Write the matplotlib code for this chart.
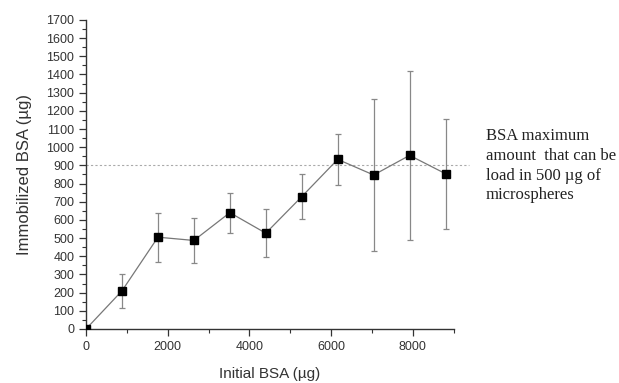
import matplotlib
matplotlib.use("Agg")
import matplotlib.pyplot as plt
from matplotlib.ticker import MultipleLocator

initial_bsa = [0, 880, 1760, 2640, 3520, 4400, 5280, 6160, 7040, 7920, 8800]
immobilized = [0, 210, 505, 487, 640, 527, 728, 933, 847, 955, 854]
errors = [0, 95, 135, 122, 110, 133, 125, 142, 420, 464, 302]
max_load = 900
note = "BSA maximum\namount  that can be\nload in 500 µg of\nmicrospheres"

fig = plt.figure(figsize=(6.19, 3.83), dpi=100)
ax = fig.add_axes([0.139, 0.141, 0.594, 0.807])

ax.errorbar(initial_bsa, immobilized, yerr=errors, color="#777777", lw=0.9,
            ecolor="#888888", elinewidth=0.9, capsize=2.5, capthick=0.9,
            marker="s", ms=5.5, mfc="black", mec="black", zorder=3)
ax.plot([0, 9380], [max_load, max_load], ls=(0, (2, 2)), color="#aaaaaa",
        lw=0.8, clip_on=False)

ax.set_xlim(0, 9000)
ax.set_ylim(0, 1700)
ax.xaxis.set_major_locator(MultipleLocator(2000))
ax.xaxis.set_minor_locator(MultipleLocator(1000))
ax.yaxis.set_major_locator(MultipleLocator(100))
ax.yaxis.set_minor_locator(MultipleLocator(50))
for s in ("top", "right"):
    ax.spines[s].set_visible(False)
for s in ("left", "bottom"):
    ax.spines[s].set_color("#333333")
    ax.spines[s].set_linewidth(1.0)
ax.tick_params(which="major", direction="out", length=5, width=0.9,
               color="#333333", labelsize=9, labelcolor="#333333",
               labelfontfamily="Liberation Sans")
ax.tick_params(which="minor", direction="out", length=3, width=0.8, color="#333333")

ax.set_xlabel("Initial BSA (µg)", fontsize=11, family="Liberation Sans",
              color="#333333", labelpad=10)
ax.set_ylabel("Immobilized BSA (µg)", fontsize=12, family="Liberation Sans",
              color="#333333", labelpad=10)

fig.text(0.785, 0.665, note, family="Liberation Serif", fontsize=12,
         va="top", ha="left", color="#222222", linespacing=1.3)

fig.savefig("out.png", dpi=100)
